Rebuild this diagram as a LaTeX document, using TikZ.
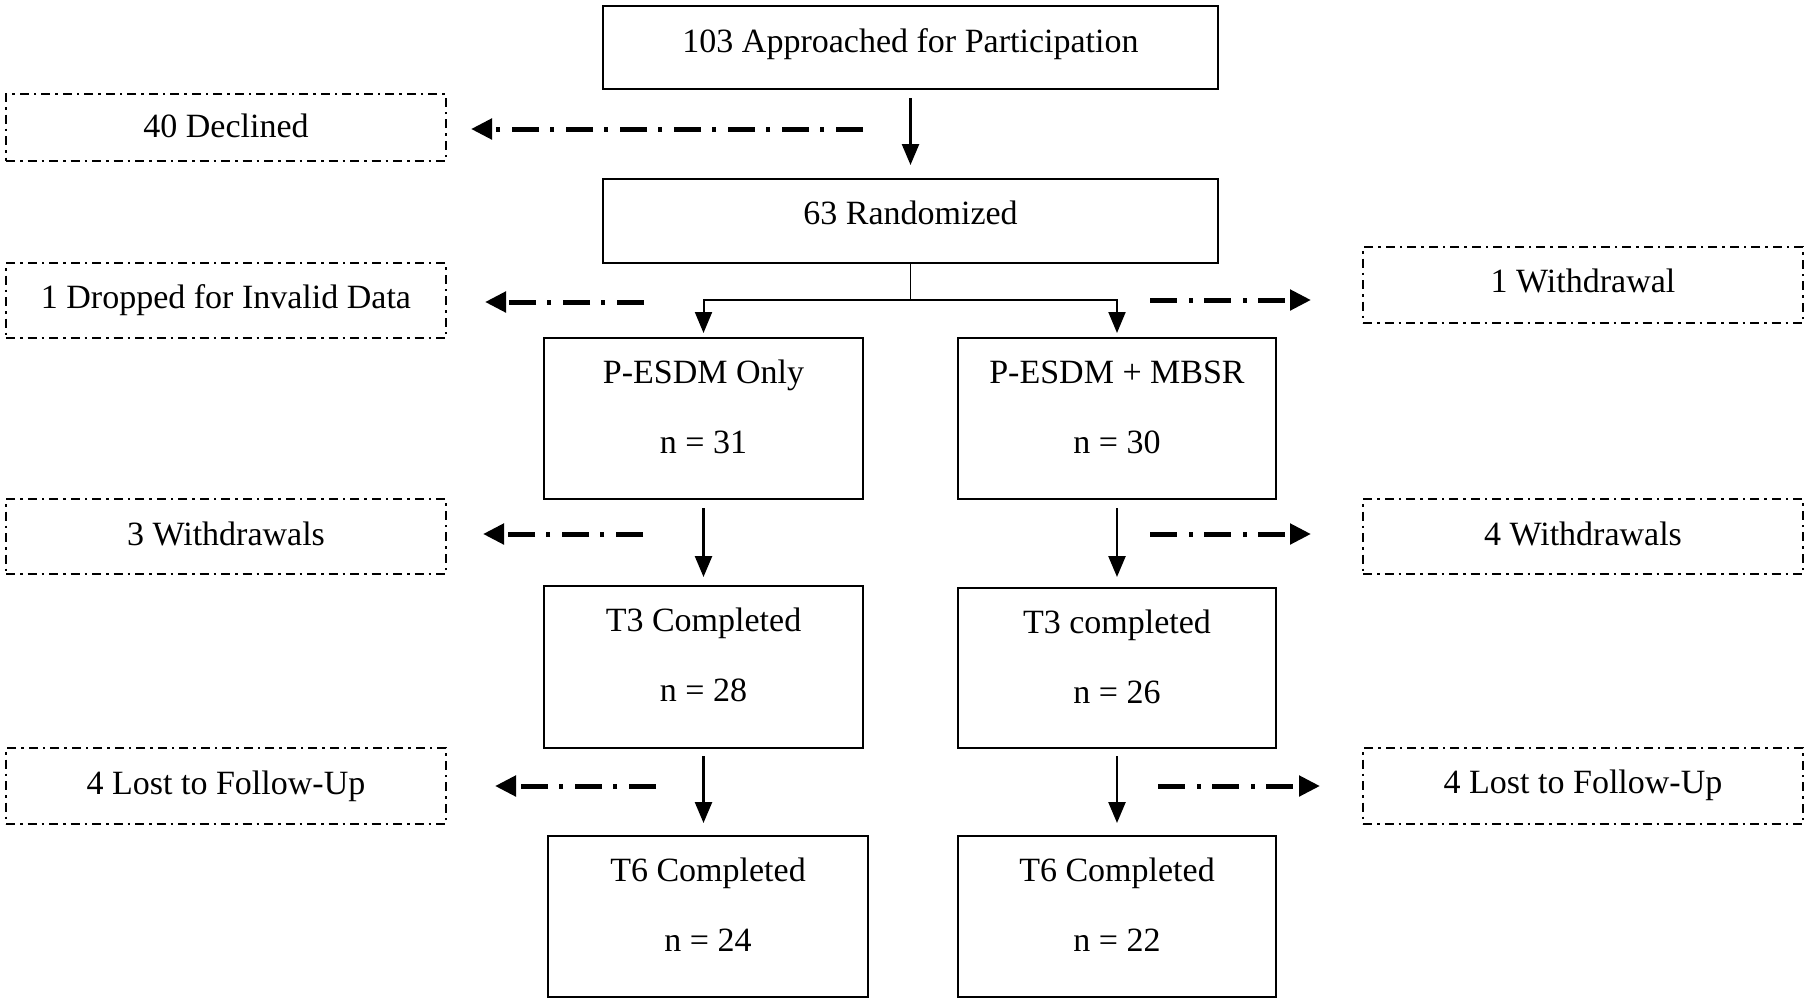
\documentclass[tikz,border=0pt]{standalone}
\usepackage{fontspec}
\setmainfont{Liberation Serif}
\usetikzlibrary{arrows.meta,calc}
\begin{document}
\begin{tikzpicture}[x=1pt,y=-1pt,
 box/.style={draw, line width=2pt, inner sep=0pt, outer sep=0pt},
 dbox/.style={draw, line width=2.2pt, dash pattern=on 9pt off 5pt on 2.5pt off 5pt, inner sep=0pt, outer sep=0pt},
 txt/.style={anchor=base, inner sep=0pt, font=\fontsize{34}{40}\selectfont},
 arr/.style={line width=2.5pt, -{Triangle[length=21pt,width=17pt]}},
 sarr/.style={line width=2pt, -{Triangle[length=21pt,width=17pt]}},
 darr/.style={line width=5pt, dash pattern=on 27pt off 12pt on 4pt off 11pt, -{Triangle[length=21pt,width=20pt]}},
 link/.style={line width=1.3pt}]
\useasboundingbox (0,0) rectangle (1810,1005);

% main boxes
\node[box, minimum width=615pt, minimum height=83pt] (A) at (910.5,47.5) {};
\node[box, minimum width=615pt, minimum height=84pt] (B) at (910.5,221) {};
\node[box, minimum width=319pt, minimum height=161pt] (PE1) at (703.5,418.5) {};
\node[box, minimum width=318pt, minimum height=161pt] (PE2) at (1117,418.5) {};
\node[box, minimum width=319pt, minimum height=162pt] (T3L) at (703.5,667) {};
\node[box, minimum width=318pt, minimum height=160pt] (T3R) at (1117,668) {};
\node[box, minimum width=320pt, minimum height=161pt] (T6L) at (708,916.5) {};
\node[box, minimum width=318pt, minimum height=161pt] (T6R) at (1117,916.5) {};

% dashed side boxes
\node[dbox, minimum width=440pt, minimum height=67pt] (D1) at (226,127.5) {};
\node[dbox, minimum width=440pt, minimum height=75pt] (D2) at (226,300.5) {};
\node[dbox, minimum width=440pt, minimum height=76pt] (D3) at (1583,285) {};
\node[dbox, minimum width=440pt, minimum height=75pt] (D4) at (226,536.5) {};
\node[dbox, minimum width=440pt, minimum height=75pt] (D5) at (1583,536.5) {};
\node[dbox, minimum width=440pt, minimum height=76pt] (D6) at (226,786) {};
\node[dbox, minimum width=440pt, minimum height=76pt] (D7) at (1583,786) {};

% texts
\node[txt] (tA) at (910.5,52) {103 Approached for Participation};
\node[txt] (tB) at (910.5,224) {63 Randomized};
\node[txt] (tPE1a) at (703.5,383) {P-ESDM Only};
\node[txt] (tPE1b) at (703.5,453) {n = 31};
\node[txt] (tPE2a) at (1117,383) {P-ESDM + MBSR};
\node[txt] (tPE2b) at (1117,453) {n = 30};
\node[txt] (tT3La) at (703.5,631) {T3 Completed};
\node[txt] (tT3Lb) at (703.5,701) {n = 28};
\node[txt] (tT3Ra) at (1117,633) {T3 completed};
\node[txt] (tT3Rb) at (1117,703) {n = 26};
\node[txt] (tT6La) at (708,881) {T6 Completed};
\node[txt] (tT6Lb) at (708,951) {n = 24};
\node[txt] (tT6Ra) at (1117,881) {T6 Completed};
\node[txt] (tT6Rb) at (1117,951) {n = 22};

\node[txt] (tD1) at (226,137) {40 Declined};
\node[txt] (tD2) at (226,308) {1 Dropped for Invalid Data};
\node[txt] (tD3) at (1583,292) {1 Withdrawal};
\node[txt] (tD4) at (226,545) {3 Withdrawals};
\node[txt] (tD5) at (1583,545) {4 Withdrawals};
\node[txt] (tD6) at (226,794) {4 Lost to Follow-Up};
\node[txt] (tD7) at (1583,793) {4 Lost to Follow-Up};

% solid connectors
\draw[arr, shorten <=9pt, shorten >=14pt] (A.south) -- (B.north);
\coordinate (split) at (910.5,300);
\draw[link] (B.south) -- (split);
\draw[sarr, shorten >=5pt] (split) -| (PE1.north);
\draw[sarr, shorten >=5pt] (split) -| (PE2.north);
\draw[arr, shorten <=9pt, shorten >=9pt] (PE1.south) -- (T3L.north);
\draw[arr, shorten <=9pt, shorten >=11pt] (PE2.south) -- (T3R.north);
\draw[arr, shorten <=8pt, shorten >=13pt] (T3L.south) -- (T3L.south |- T6L.north);
\draw[arr, shorten <=8pt, shorten >=13pt] (T3R.south) -- (T6R.north);

% dash-dot connectors
\coordinate (d1s) at (863,129);
\coordinate (d2s) at (644,302);
\coordinate (d3s) at (1150,300);
\coordinate (d4s) at (643,534);
\coordinate (d5s) at (1150,534);
\coordinate (d6s) at (656,786);
\coordinate (d7s) at (1158,786);
\draw[darr, shorten >=25pt] (d1s) -- (d1s -| D1.east);
\draw[darr, shorten >=39pt] (d2s) -- (d2s -| D2.east);
\draw[darr, shorten >=52pt] (d3s) -- (d3s -| D3.west);
\draw[darr, shorten >=37pt] (d4s) -- (d4s -| D4.east);
\draw[darr, shorten >=52pt] (d5s) -- (d5s -| D5.west);
\draw[darr, shorten >=49pt] (d6s) -- (d6s -| D6.east);
\draw[darr, shorten >=43pt] (d7s) -- (d7s -| D7.west);
\end{tikzpicture}
\end{document}
